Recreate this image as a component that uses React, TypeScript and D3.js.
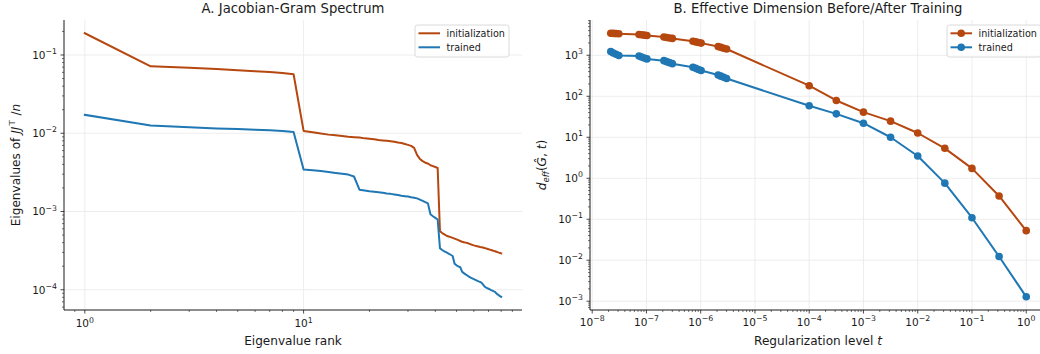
import React from 'react';
import * as d3 from 'd3';

// ---------- Panel A: eigenvalue spectra (rank 1..80) ----------
const INIT_SPECTRUM = [
  0.190, 0.0716, 0.0685, 0.0660, 0.0640, 0.0622, 0.0605, 0.0588, 0.0567,
  0.0107, 0.0103, 0.0099, 0.0096, 0.0094, 0.0092, 0.0090, 0.0089, 0.0088, 0.0086, 0.0085,
  0.0084, 0.0082, 0.0081, 0.0080, 0.0079, 0.0078, 0.0076, 0.0075, 0.0073, 0.0071,
  0.0069, 0.0065, 0.0053, 0.0047, 0.0044, 0.0042, 0.0041, 0.0039, 0.0038, 0.0037, 0.0036,
  0.00056, 0.00053, 0.00051, 0.00049, 0.00048, 0.00047, 0.00046, 0.00045, 0.00044,
  0.00043, 0.00042, 0.00041, 0.000405, 0.000400, 0.000395, 0.000388, 0.000381, 0.000375, 0.000369,
  0.000364, 0.000360, 0.000356, 0.000352, 0.000349, 0.000346, 0.000342, 0.000338, 0.000334, 0.000330,
  0.000326, 0.000322, 0.000318, 0.000314, 0.000310, 0.000306, 0.000302, 0.000298, 0.000295, 0.000292,
];

const TRAINED_SPECTRUM = [
  0.0172, 0.0126, 0.0119, 0.0115, 0.0113, 0.0111, 0.0109, 0.0107, 0.0104,
  0.00343, 0.00336, 0.00329, 0.00320, 0.00311, 0.00304, 0.00296, 0.00280,
  0.00190, 0.00186, 0.00182, 0.00179, 0.00176, 0.00173, 0.00170, 0.00168, 0.00165, 0.00162,
  0.00159, 0.00157, 0.00155, 0.00152, 0.00150, 0.00147, 0.00142, 0.00137, 0.00132, 0.00127,
  0.00092, 0.00087, 0.00083, 0.00079,
  0.000340, 0.000322, 0.000310, 0.000300, 0.000290, 0.000280, 0.000270, 0.000215, 0.000205,
  0.000199, 0.000194, 0.000170, 0.000163, 0.000157, 0.000152, 0.000147, 0.000143, 0.000140, 0.000137,
  0.000134, 0.000131, 0.000128, 0.000126, 0.000123, 0.000117, 0.000111, 0.000107, 0.000105, 0.000103,
  0.000101, 0.0000990, 0.0000972, 0.0000955, 0.0000940, 0.0000900, 0.0000870, 0.0000852, 0.0000830, 0.0000812,
];

// ---------- Panel B: effective dimension vs regularization ----------
const T_LEVELS = [
  2.2e-8, 2.45e-8, 2.75e-8, 3.1e-8,
  7.3e-8, 8.1e-8, 9.1e-8, 1.02e-7,
  2.1e-7, 2.35e-7, 2.65e-7, 3.0e-7,
  7.2e-7, 8.1e-7, 9.1e-7, 1.02e-6,
  2.1e-6, 2.35e-6, 2.65e-6, 3.0e-6,
  1e-4, 3.16e-4, 1e-3, 3.16e-3, 1e-2, 3.16e-2, 0.1, 0.316, 1,
];
const DEFF_INIT = [
  3460, 3420, 3380, 3340,
  3210, 3160, 3100, 3040,
  2790, 2720, 2650, 2580,
  2190, 2120, 2050, 1980,
  1630, 1560, 1490, 1420,
  181, 79, 41, 24.7, 12.7, 5.37, 1.74, 0.37, 0.0526,
];
const DEFF_TRAINED = [
  1230, 1140, 1060, 990,
  960, 910, 860, 815,
  740, 700, 660, 625,
  510, 480, 450, 425,
  330, 310, 290, 272,
  58.5, 37.2, 22, 10, 3.48, 0.76, 0.109, 0.0123, 0.00128,
];

const SERIES_NAMES = ['initialization', 'trained'];
const TITLE_A = 'A. Jacobian-Gram Spectrum';
const TITLE_B = 'B. Effective Dimension Before/After Training';

const ORANGE = '#b5470f';
const BLUE = '#1f77b4';
const FONT = "'DejaVu Sans', sans-serif";
const TXT = '#1a1a1a';
const GRID = '#e9e9e9';

function padLog(values: number[]): [number, number] {
  const l0 = Math.log10(d3.min(values) as number);
  const l1 = Math.log10(d3.max(values) as number);
  const m = (l1 - l0) * 0.05;
  return [Math.pow(10, l0 - m), Math.pow(10, l1 + m)];
}

function logTicks(domain: number[]) {
  const [a, b] = domain;
  const out: { v: number; major: boolean; e: number }[] = [];
  for (let e = Math.floor(Math.log10(a)) - 1; e <= Math.ceil(Math.log10(b)) + 1; e++) {
    for (let k = 1; k <= 9; k++) {
      const v = k * Math.pow(10, e);
      if (v >= a * 0.9999 && v <= b * 1.0001) out.push({ v, major: k === 1, e });
    }
  }
  return out;
}

function Pow({ e, x, y, anchor }: { e: number; x: number; y: number; anchor: string }) {
  const s = e < 0 ? '\u2212' + Math.abs(e) : String(e);
  return (
    <text x={x} y={y} textAnchor={anchor} fontSize={10.5} fontFamily={FONT} fill={TXT}>
      10
      <tspan dy={-4.8} fontSize={7.8}>{s}</tspan>
    </text>
  );
}

function Axes({ xs, ys, xLabelY }: { xs: any; ys: any; xLabelY: number }) {
  const [x0, x1] = xs.range();
  const [y0, y1] = ys.range();
  const xt = logTicks(xs.domain());
  const yt = logTicks(ys.domain());
  return (
    <g>
      {xt.filter(t => t.major).map((t, i) => (
        <line key={'gx' + i} x1={xs(t.v)} x2={xs(t.v)} y1={y0} y2={y1} stroke={GRID} strokeWidth={0.8} />
      ))}
      {yt.filter(t => t.major).map((t, i) => (
        <line key={'gy' + i} x1={x0} x2={x1} y1={ys(t.v)} y2={ys(t.v)} stroke={GRID} strokeWidth={0.8} />
      ))}
      {xt.map((t, i) => (
        <line key={'tx' + i} x1={xs(t.v)} x2={xs(t.v)} y1={y0} y2={y0 + (t.major ? 3.5 : 2)} stroke={TXT} strokeWidth={t.major ? 0.8 : 0.6} />
      ))}
      {yt.map((t, i) => (
        <line key={'ty' + i} x1={x0} x2={x0 - (t.major ? 3.5 : 2)} y1={ys(t.v)} y2={ys(t.v)} stroke={TXT} strokeWidth={t.major ? 0.8 : 0.6} />
      ))}
      {xt.filter(t => t.major).map((t, i) => (
        <Pow key={'lx' + i} e={t.e} x={xs(t.v)} y={xLabelY} anchor="middle" />
      ))}
      {yt.filter(t => t.major).map((t, i) => (
        <Pow key={'ly' + i} e={t.e} x={x0 - 7} y={ys(t.v) + 3.9} anchor="end" />
      ))}
      <line x1={x0} x2={x0} y1={y0} y2={y1} stroke={TXT} strokeWidth={1} />
      <line x1={x0} x2={x1} y1={y0} y2={y0} stroke={TXT} strokeWidth={1} />
    </g>
  );
}

function Legend({ x, y, markers }: { x: number; y: number; markers: boolean }) {
  const colors = [ORANGE, BLUE];
  return (
    <g>
      <rect x={x} y={y} width={94} height={32} rx={2.5} fill="white" fillOpacity={0.8} stroke="#d0d0d0" strokeWidth={0.8} />
      {SERIES_NAMES.map((n, i) => {
        const yy = y + 8.3 + i * 14;
        return (
          <g key={n}>
            <line x1={x + 3.5} x2={x + 25} y1={yy} y2={yy} stroke={colors[i]} strokeWidth={2} />
            {markers && <circle cx={x + 14.2} cy={yy} r={3.8} fill={colors[i]} />}
            <text x={x + 31.5} y={yy + 3.4} fontSize={9.6} fontFamily={FONT} fill={TXT}>{n}</text>
          </g>
        );
      })}
    </g>
  );
}

export default function App() {
  const W = 1040, H = 354;
  const ranks = INIT_SPECTRUM.map((_, i) => i + 1);

  const axs = d3.scaleLog().domain(padLog(ranks)).range([64, 522]);
  const ays = d3.scaleLog().domain(padLog([...INIT_SPECTRUM, ...TRAINED_SPECTRUM])).range([310, 20]);
  const lineA = d3.line<number>().x((_, i) => axs(ranks[i])).y(d => ays(d));

  const bxs = d3.scaleLog().domain(padLog(T_LEVELS)).range([590, 1047]);
  const bys = d3.scaleLog().domain(padLog([...DEFF_INIT, ...DEFF_TRAINED])).range([310, 20]);
  const lineB = d3.line<number>().x((_, i) => bxs(T_LEVELS[i])).y(d => bys(d));

  return (
    <svg width={W} height={H} style={{ position: 'absolute', left: 0, top: 0, background: 'white' }}>
      <rect x={0} y={0} width={W} height={H} fill="white" />

      {/* Panel A */}
      <Axes xs={axs} ys={ays} xLabelY={327.3} />
      <path d={lineA(INIT_SPECTRUM) || ''} fill="none" stroke={ORANGE} strokeWidth={2} strokeLinejoin="round" strokeLinecap="square" />
      <path d={lineA(TRAINED_SPECTRUM) || ''} fill="none" stroke={BLUE} strokeWidth={2} strokeLinejoin="round" strokeLinecap="square" />
      <Legend x={415} y={25} markers={false} />
      <text x={293} y={13.3} textAnchor="middle" fontSize={13.2} fontFamily={FONT} fill={TXT}>{TITLE_A}</text>
      <text x={293} y={344.5} textAnchor="middle" fontSize={12.1} fontFamily={FONT} fill={TXT}>Eigenvalue rank</text>
      <text transform="translate(19.5,165) rotate(-90)" textAnchor="middle" fontSize={12.1} fontFamily={FONT} fill={TXT}>
        Eigenvalues of <tspan fontStyle="italic">JJ</tspan>
        <tspan dy={-5} fontSize={8.5}>{'\u22A4'}</tspan>
        <tspan dy={5}> /</tspan>
        <tspan fontStyle="italic">n</tspan>
      </text>

      {/* Panel B */}
      <Axes xs={bxs} ys={bys} xLabelY={325.7} />
      <path d={lineB(DEFF_INIT) || ''} fill="none" stroke={ORANGE} strokeWidth={2} strokeLinejoin="round" />
      {DEFF_INIT.map((d, i) => (
        <circle key={'bi' + i} cx={bxs(T_LEVELS[i])} cy={bys(d)} r={3.8} fill={ORANGE} />
      ))}
      <path d={lineB(DEFF_TRAINED) || ''} fill="none" stroke={BLUE} strokeWidth={2} strokeLinejoin="round" />
      {DEFF_TRAINED.map((d, i) => (
        <circle key={'bt' + i} cx={bxs(T_LEVELS[i])} cy={bys(d)} r={3.8} fill={BLUE} />
      ))}
      <Legend x={947} y={25} markers={true} />
      <text x={818} y={13.3} textAnchor="middle" fontSize={13.2} fontFamily={FONT} fill={TXT}>{TITLE_B}</text>
      <text x={818} y={344.5} textAnchor="middle" fontSize={12.1} fontFamily={FONT} fill={TXT}>
        Regularization level <tspan fontStyle="italic">t</tspan>
      </text>
      <text transform="translate(546,165) rotate(-90)" textAnchor="middle" fontSize={12.1} fontFamily={FONT} fill={TXT}>
        <tspan fontStyle="italic">d</tspan>
        <tspan dy={2.5} fontSize={8.5} fontStyle="italic">eff</tspan>
        <tspan dy={-2.5}>(</tspan>
        <tspan fontStyle="italic">{'\u011C'}</tspan>
        <tspan>, </tspan>
        <tspan fontStyle="italic">t</tspan>
        <tspan>)</tspan>
      </text>
    </svg>
  );
}
